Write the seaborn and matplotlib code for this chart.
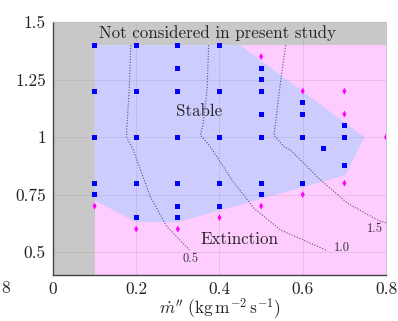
import numpy as np
import pandas as pd
import matplotlib
matplotlib.use("Agg")
import matplotlib.pyplot as plt
import seaborn as sns

# stable cases (blue squares)
stable_x = [0.1, 0.1, 0.1, 0.1, 0.1,
            0.2, 0.2, 0.2, 0.2, 0.2,
            0.3, 0.3, 0.3, 0.3, 0.3, 0.3, 0.3,
            0.4, 0.4, 0.4, 0.4, 0.4,
            0.5, 0.5, 0.5, 0.5, 0.5, 0.5, 0.5,
            0.6, 0.6, 0.6, 0.6,
            0.65,
            0.7, 0.7, 0.7]
stable_y = [1.4, 1.2, 1.0, 0.8, 0.75,
            1.4, 1.2, 1.0, 0.8, 0.65,
            1.4, 1.3, 1.2, 1.0, 0.8, 0.7, 0.65,
            1.4, 1.2, 1.0, 0.8, 0.7,
            1.3, 1.25, 1.2, 1.1, 1.0, 0.8, 0.75,
            1.15, 1.1, 1.0, 0.8,
            0.95,
            1.05, 1.0, 0.875]

# extinction cases (magenta diamonds)
ext_x = [0.1, 0.2, 0.3, 0.4, 0.5, 0.5, 0.6, 0.6, 0.7, 0.7, 0.7, 0.8]
ext_y = [0.7, 0.6, 0.6, 0.65, 1.35, 0.7, 1.2, 0.75, 1.2, 1.1, 0.8, 1.0]

# stable region outline
region_x = [0.1, 0.45, 0.748, 0.703, 0.3, 0.2, 0.1]
region_y = [1.4, 1.4, 1.0, 0.835, 0.63, 0.63, 0.725]

# dotted iso-lines
iso_05_x = [0.187, 0.183, 0.177, 0.177, 0.193, 0.234, 0.274, 0.328]
iso_05_y = [1.40, 1.20, 1.03, 1.00, 0.943, 0.74, 0.61, 0.509]
iso_10_x = [0.374, 0.370, 0.360, 0.354, 0.378, 0.430, 0.483, 0.547, 0.659]
iso_10_y = [1.40, 1.20, 1.05, 1.01, 0.958, 0.813, 0.69, 0.596, 0.506]
iso_15_x = [0.559, 0.547, 0.531, 0.555, 0.571, 0.643, 0.708, 0.78, 0.80]
iso_15_y = [1.40, 1.248, 1.009, 0.958, 0.943, 0.813, 0.712, 0.639, 0.627]
iso_labels = ["0.5", "1.0", "1.5"]

xticks = [0, 0.2, 0.4, 0.6, 0.8]
xtick_labels = ["0", "0.2", "0.4", "0.6", "0.8"]
yticks = [0.5, 0.75, 1.0, 1.25, 1.5]
ytick_labels = ["0.5", "0.75", "1", "1.25", "1.5"]

sns.set_style("white")
plt.rcParams["font.family"] = ["cmr10", "DejaVu Serif"]
plt.rcParams["mathtext.fontset"] = "cm"
plt.rcParams["axes.formatter.use_mathtext"] = True

fig = plt.figure(figsize=(3.98, 3.21), dpi=100)
ax = fig.add_axes([0.133, 0.143, 0.837, 0.788])

# backgrounds
ax.axvspan(0.1, 0.8, ymin=0, ymax=10 / 11, color="#ffccff", lw=0, zorder=0)
ax.axvspan(0, 0.1, color="#c8c8c8", lw=0, zorder=0)
ax.axhspan(1.4, 1.5, color="#c8c8c8", lw=0, zorder=0)
ax.fill(region_x, region_y, color="#ccccff", lw=0, zorder=1)

for v in [0.2, 0.4, 0.6]:
    ax.axvline(v, color="#999999", lw=0.5, alpha=0.35, zorder=1.5)
for v in [0.5, 0.75, 1.0, 1.25]:
    ax.axhline(v, color="#999999", lw=0.5, alpha=0.35, zorder=1.5)

for xs, ys in [(iso_05_x, iso_05_y), (iso_10_x, iso_10_y), (iso_15_x, iso_15_y)]:
    sns.lineplot(x=xs, y=ys, sort=False, estimator=None, ax=ax,
                 color="#555566", lw=0.8, linestyle=(0, (1, 1.5)), zorder=2)

df = pd.DataFrame({
    "x": stable_x + ext_x,
    "y": stable_y + ext_y,
    "regime": ["Stable"] * len(stable_x) + ["Extinction"] * len(ext_x),
})
sns.scatterplot(data=df, x="x", y="y", hue="regime", style="regime",
                palette={"Stable": "#0000ff", "Extinction": "#ff00ff"},
                markers={"Stable": "s", "Extinction": "d"},
                s=12, linewidth=0, legend=False, ax=ax, zorder=3)

ax.text(0.395, 1.452, "Not considered in present study", ha="center", va="center", fontsize=12.2)
ax.text(0.35, 1.11, "Stable", ha="center", va="center", fontsize=12.2)
ax.text(0.448, 0.555, "Extinction", ha="center", va="center", fontsize=12.2)
ax.text(0.33, 0.47, iso_labels[0], ha="center", va="center", fontsize=9, color="#333333")
ax.text(0.695, 0.52, iso_labels[1], ha="center", va="center", fontsize=9, color="#333333")
ax.text(0.772, 0.60, iso_labels[2], ha="center", va="center", fontsize=9, color="#333333")

ax.set_xlim(0, 0.8)
ax.set_ylim(0.4, 1.5)
ax.set_xticks(xticks)
ax.set_xticklabels(xtick_labels)
ax.set_yticks(yticks)
ax.set_yticklabels(ytick_labels)
ax.tick_params(direction="in", length=3, width=0.6, labelsize=12.5, colors="#222222", pad=5)
ax.set_xlabel(r"$\dot{m}''\ (\mathrm{kg\,m^{-2}\,s^{-1}})$", fontsize=12.5, labelpad=0)
ax.set_ylabel("")

for side in ["left", "bottom"]:
    ax.spines[side].set_color("#444444")
    ax.spines[side].set_linewidth(1.0)
for side in ["top", "right"]:
    ax.spines[side].set_color("#bbbbbb")
    ax.spines[side].set_linewidth(0.6)

fig.text(0.002, 0.103, "8", fontsize=12.5, ha="left", va="center")

fig.savefig("out.png", dpi=100)
